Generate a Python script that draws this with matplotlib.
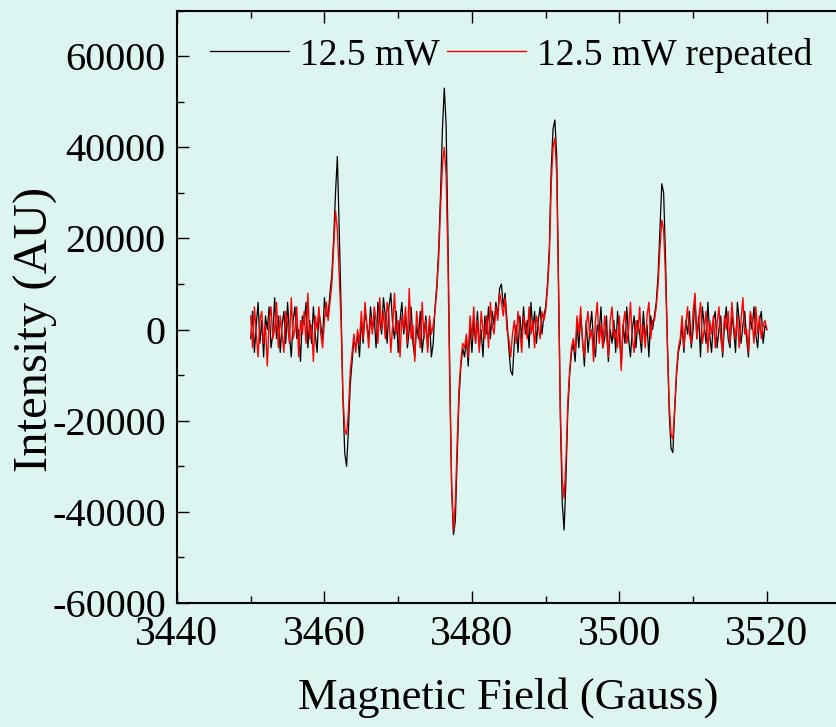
import numpy as np
import matplotlib
matplotlib.use("Agg")
import matplotlib.pyplot as plt
from matplotlib.ticker import MultipleLocator

# --- Data (intensity in thousands of AU, sampled every 0.25 G) ---
field_step = 0.25
# field at which each segment starts
seg_start = [3450.0, 3460.5, 3464.25, 3475.0, 3479.0, 3490.0, 3493.75, 3504.75, 3508.25]

black_segments = [
    # baseline 3450 - 3460.25
    [-2, 4, -5, 1, 6, -3, 2, -6, 3, 0, 5, -4, -1, 7, -2, 3, -5, 1, 4, -3, 6,
     -1, -6, 2, 5, -2, 0, -7, 3, 1, 6, -4, 2, -3, 5, -1, -5, 4, 1, -2, 7, 3],
    # line 1
    [3, 8, 12, 20, 30, 38, 22, 5, -15, -27, -30, -22, -12, -7, -2],
    # baseline 3464.25 - 3474.75
    [-4, -1, -6, 2, -3, 4, 1, -2, 5, 0, 3, -4, 6, 2, -1, 7, 3, -3, 5, 8, 1,
     -2, 4, -5, 2, 6, -1, 3, -4, 0, 5, -3, -6, 1, -2, 4, -5, -1, 3, -4, 2, -6, -3],
    # line 2
    [5, 10, 18, 30, 44, 53, 45, 20, -10, -35, -45, -42, -28, -15, -8, -4],
    # baseline 3479 - 3489.75
    [-6, -2, -8, 1, -5, 2, -3, 4, -4, 0, -6, 3, -1, 5, -2, 4, 1, 6, 3, 9, 10,
     5, 8, 2, -4, -9, -10, -3, 1, -5, 3, -2, 5, -1, 2, -4, 6, 0, 4, -3, 2, 5, -1, 3],
    # line 3
    [5, 10, 18, 35, 44, 46, 38, 10, -20, -38, -44, -33, -18, -10, -5],
    # baseline 3493.75 - 3504.5
    [-3, -7, 1, -4, 3, -2, -8, 2, -5, 0, 4, -3, -6, 1, -1, 5, -4, -2, 3, -7, 0,
     -3, 2, -5, 4, -1, -8, 1, -3, 5, -2, -6, 0, 3, -4, 2, -1, -5, 4, -2, 1, -6, 3, 0],
    # line 4
    [3, 6, 12, 22, 32, 30, 16, -2, -18, -26, -27, -18, -10, -5],
    # baseline 3508.25 - 3520
    [-3, 1, -5, 2, -1, 4, -4, 0, 7, -2, 3, -6, 5, 1, -3, 6, -1, -5, 2, 4, -4, 0,
     3, -6, 1, 5, -2, -4, 3, 0, -5, 6, 2, -3, 1, 4, -2, -6, 3, 0, 5, -1, -4, 2, 4, -3, 1, 0],
]

red_segments = [
    [3, -4, 5, -1, -6, 2, 4, -3, 1, -8, 2, 5, -2, 0, 6, -4, 3, -1, -5, 4, 1,
     -3, 7, -2, 0, 5, -6, 2, -1, 4, -3, 8, -2, 1, -7, 3, 0, 5, -1, -4, 2, 6],
    [2, 6, 10, 18, 26, 22, 12, 2, -14, -22, -23, -18, -9, -5, -1],
    [-5, 0, -3, 4, -2, 6, 1, -4, 3, -1, 5, 2, -3, 7, 0, 4, -2, 6, 3, -5, 1,
     8, -1, 2, -6, 3, 0, 5, -3, 9, -2, 1, -7, 4, 0, -4, 6, -2, 2, -5, 3, -1, 1],
    [4, 9, 16, 27, 36, 40, 34, 15, -12, -34, -44, -38, -25, -13, -7, -3],
    [-4, -1, -6, 3, -2, 5, -3, 2, -5, 4, 0, -2, 3, -4, 6, 1, -1, 5, 2, 8, 6,
     3, 7, 0, -2, -6, -1, 2, -3, 4, 0, -5, 3, 1, -2, 5, -1, 2, -4, 3, 1, -2, 4, 2],
    [4, 9, 16, 32, 40, 42, 34, 8, -18, -33, -37, -29, -16, -9, -4],
    [-2, -5, 3, -1, 5, -3, -6, 1, 4, -2, 0, -7, 2, 6, -3, 1, -4, 3, -1, -6, 2,
     5, -2, 0, -4, 3, -9, 1, 4, -3, 0, 6, -2, -5, 2, -1, 5, -3, 1, -4, 3, 6, -2, 2],
    [2, 5, 10, 18, 24, 22, 12, -3, -16, -23, -24, -17, -9, -4],
    [-2, 3, -4, 1, 5, -1, -3, 4, 8, -2, 2, 6, -3, 0, 4, -5, 2, -1, 3, -4, 1, 5,
     -2, -5, 3, 0, 4, -3, 6, 1, -2, 3, -4, 2, 7, -1, 0, -5, 4, 2, -3, 5, -1, 3, -2, 1, 2, 0],
]

series_labels = ["12.5 mW", "12.5 mW repeated"]
x_ticks = [3440, 3460, 3480, 3500, 3520]
y_ticks = [-60000, -40000, -20000, 0, 20000, 40000, 60000]


def build_series(segments):
    """Join the segments into one field / intensity pair."""
    xs, ys = [], []
    for start, seg in zip(seg_start, segments):
        xs.extend(start + field_step * np.arange(len(seg)))
        ys.extend(seg)
    return np.array(xs), np.array(ys) * 1000.0


BG = "#ddf5f1"
plt.rcParams["font.family"] = ["Liberation Serif", "DejaVu Serif"]
plt.rcParams["axes.unicode_minus"] = False

fig = plt.figure(figsize=(8.36, 7.27), dpi=100, facecolor=BG)
ax = fig.add_axes([0.2117, 0.1706, 0.882, 0.8147], facecolor=BG)

xb, yb = build_series(black_segments)
xr, yr = build_series(red_segments)
ax.plot(xb, yb, color="black", lw=0.9, label=series_labels[0])
ax.plot(xr, yr, color="red", lw=1.0, label=series_labels[1])

ax.set_xlim(3440, 3540)
ax.set_ylim(-60000, 70000)
ax.set_xticks(x_ticks)
ax.set_yticks(y_ticks)
ax.xaxis.set_minor_locator(MultipleLocator(10))
ax.yaxis.set_minor_locator(MultipleLocator(10000))
ax.tick_params(which="both", direction="in", top=True, right=True, width=1.0)
ax.tick_params(axis="x", labelsize=30, pad=9)
ax.tick_params(axis="y", labelsize=29, pad=8)
ax.tick_params(which="major", length=8.5)
ax.tick_params(which="minor", length=5)
for sp in ax.spines.values():
    sp.set_linewidth(1.5)

ax.set_xlabel("Magnetic Field (Gauss)", fontsize=32)
ax.xaxis.set_label_coords(0.449, -0.125)
ax.set_ylabel("Intensity (AU)", fontsize=35)
ax.yaxis.set_label_coords(-0.162, 0.461)

ax.legend(loc="center left", bbox_to_anchor=(0.045, 0.925), ncol=2,
          frameon=False, fontsize=27, handlelength=2.1, handletextpad=0.3,
          columnspacing=0.2, borderpad=0, borderaxespad=0)

fig.savefig("out.png", dpi=100, facecolor=BG)
